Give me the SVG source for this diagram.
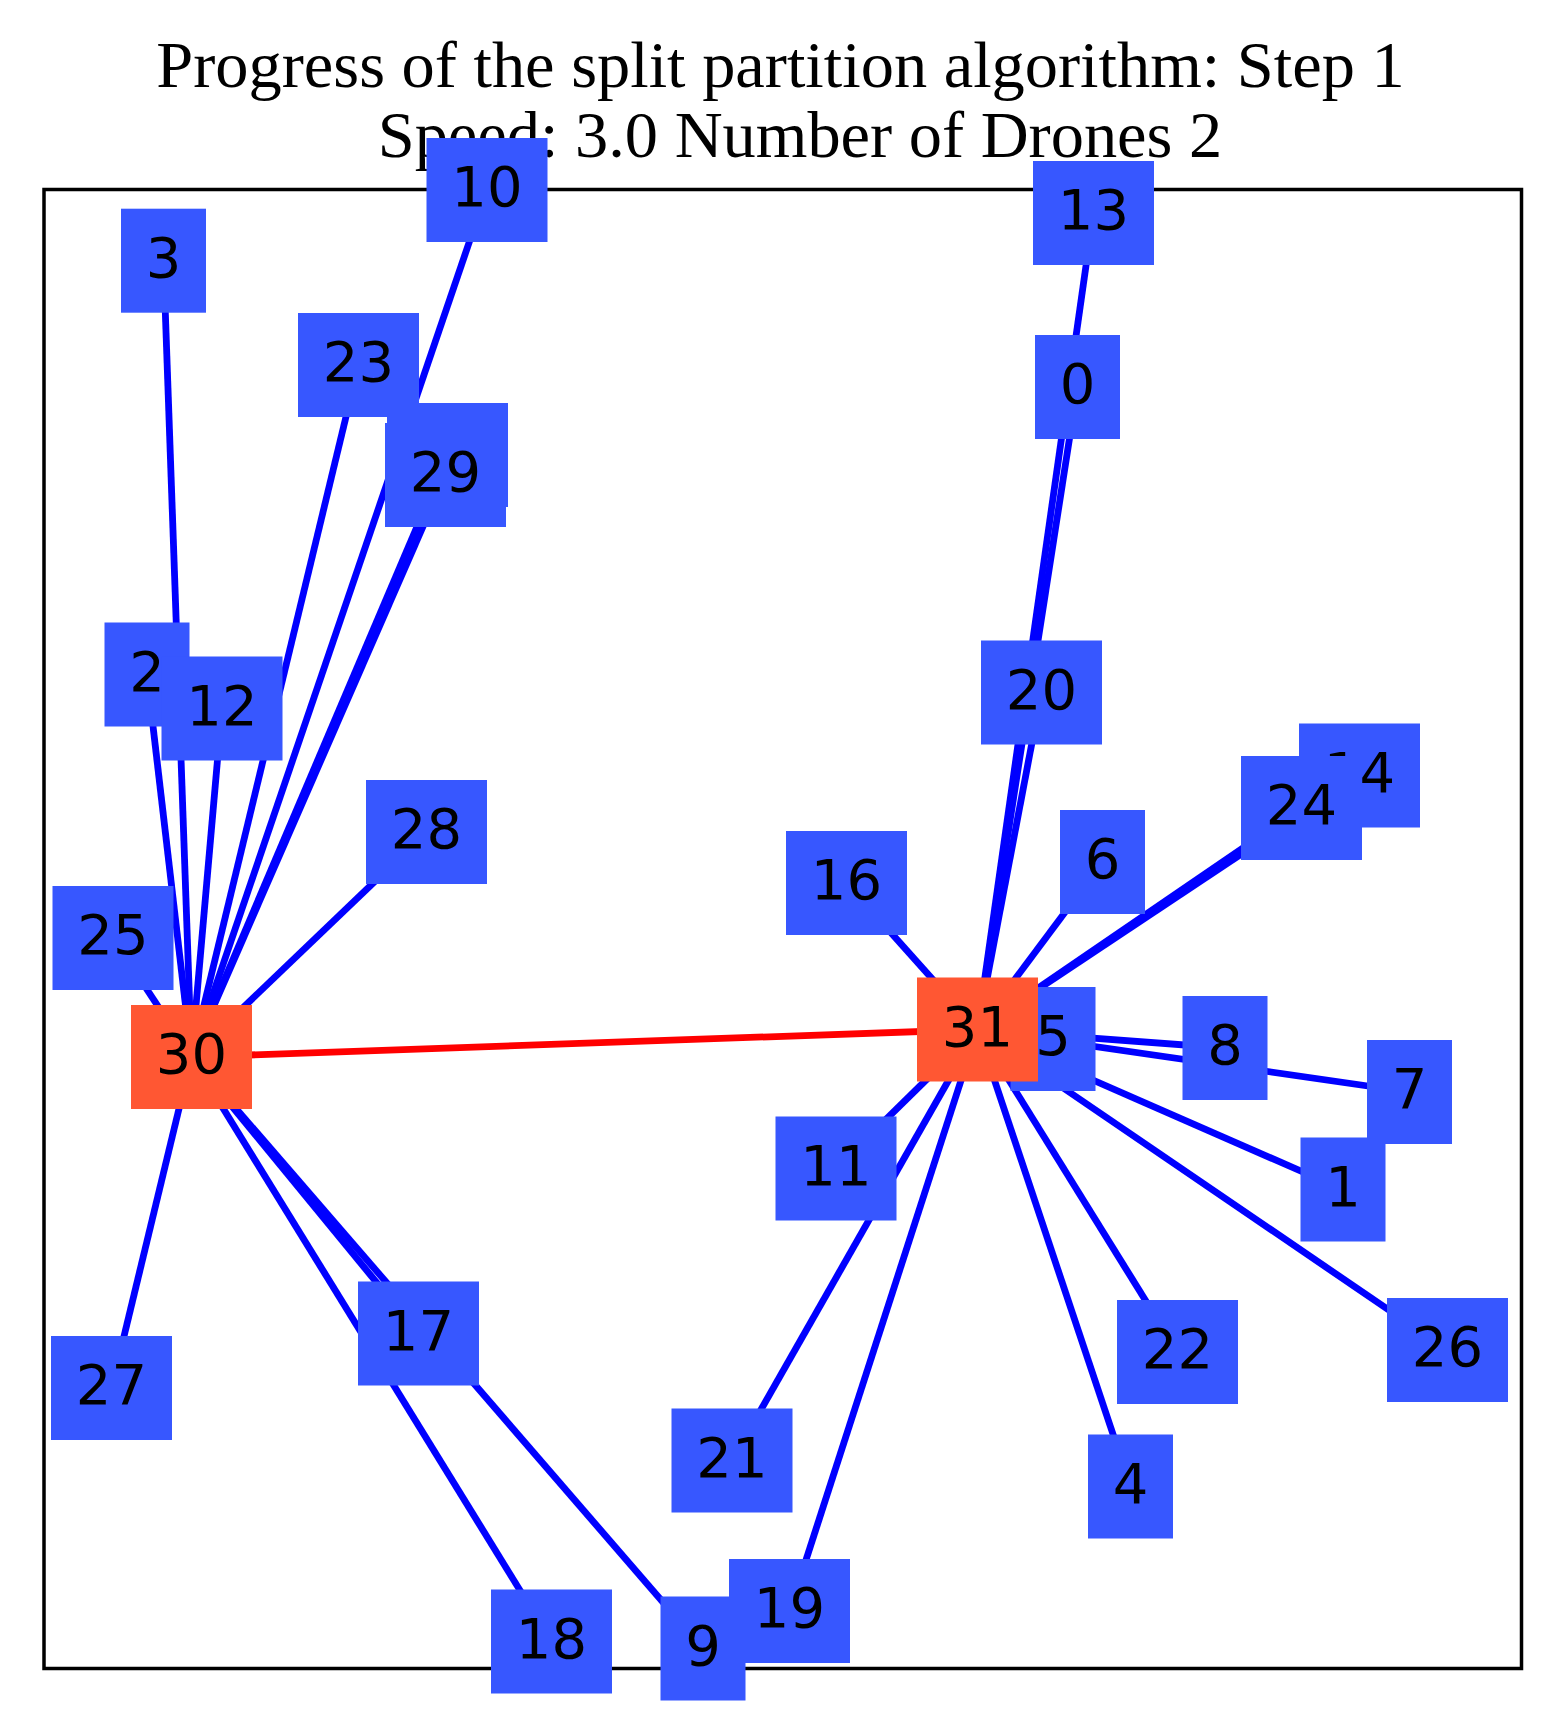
<svg xmlns="http://www.w3.org/2000/svg" width="1565" height="1716" viewBox="0 0 1565 1716">
  <style>
    .title { font-family: "Liberation Serif", "Times New Roman", serif; font-size: 66.4px; fill: #000; }
    .frame { fill: none; stroke: #000; stroke-width: 3.5; }
    .e { stroke: #0000ff; stroke-width: 6.8; stroke-linecap: butt; }
    .link { stroke: #ff0000; stroke-width: 6.8; }
    .c { fill: #3757ff; }
    .d { fill: #ff5733; }
    .lbl { font-family: "DejaVu Sans", "Liberation Sans", sans-serif; font-size: 56px; fill: #000; text-anchor: middle; }
  </style>

  <rect width="1565" height="1716" fill="#ffffff"/>

  <!-- title -->
  <text class="title" x="780.5" y="87" text-anchor="middle">Progress of the split partition algorithm: Step 1</text>
  <text class="title" x="800" y="157" text-anchor="middle">Speed: 3.0 Number of Drones 2</text>

  <!-- axes frame -->
  <rect class="frame" x="44" y="189.5" width="1477.5" height="1479"/>

  <!-- connectors: depot 30 (left) and depot 31 (right) to their customers -->
  <g id="edges">
    <line class="e" x1="191.5" y1="1057" x2="147" y2="674.5"/>
    <line class="e" x1="191.5" y1="1057" x2="163.5" y2="260.7"/>
    <line class="e" x1="191.5" y1="1057" x2="703" y2="1648.5"/>
    <line class="e" x1="191.5" y1="1057" x2="487" y2="190"/>
    <line class="e" x1="191.5" y1="1057" x2="222" y2="708.5"/>
    <line class="e" x1="191.5" y1="1057" x2="447.5" y2="455"/>
    <line class="e" x1="191.5" y1="1057" x2="418.5" y2="1333.5"/>
    <line class="e" x1="191.5" y1="1057" x2="551.5" y2="1641.5"/>
    <line class="e" x1="191.5" y1="1057" x2="358.5" y2="365"/>
    <line class="e" x1="191.5" y1="1057" x2="113" y2="938"/>
    <line class="e" x1="191.5" y1="1057" x2="111.5" y2="1388"/>
    <line class="e" x1="191.5" y1="1057" x2="426.5" y2="832"/>
    <line class="e" x1="191.5" y1="1057" x2="445.5" y2="475"/>

    <line class="e" x1="977.5" y1="1029.5" x2="1077.5" y2="387"/>
    <line class="e" x1="977.5" y1="1029.5" x2="1343" y2="1189.5"/>
    <line class="e" x1="977.5" y1="1029.5" x2="1130.5" y2="1486.5"/>
    <line class="e" x1="977.5" y1="1029.5" x2="1053" y2="1039"/>
    <line class="e" x1="977.5" y1="1029.5" x2="1102.5" y2="862"/>
    <line class="e" x1="977.5" y1="1029.5" x2="1409.5" y2="1092"/>
    <line class="e" x1="977.5" y1="1029.5" x2="1225" y2="1048"/>
    <line class="e" x1="977.5" y1="1029.5" x2="836" y2="1168.5"/>
    <line class="e" x1="977.5" y1="1029.5" x2="1093.5" y2="213"/>
    <line class="e" x1="977.5" y1="1029.5" x2="1359.5" y2="775.5"/>
    <line class="e" x1="977.5" y1="1029.5" x2="846.5" y2="883"/>
    <line class="e" x1="977.5" y1="1029.5" x2="789.5" y2="1611"/>
    <line class="e" x1="977.5" y1="1029.5" x2="1041.5" y2="692.5"/>
    <line class="e" x1="977.5" y1="1029.5" x2="732" y2="1460.5"/>
    <line class="e" x1="977.5" y1="1029.5" x2="1177.5" y2="1352"/>
    <line class="e" x1="977.5" y1="1029.5" x2="1301.5" y2="808"/>
    <line class="e" x1="977.5" y1="1029.5" x2="1447.5" y2="1350"/>

    <line class="link" x1="191.5" y1="1057" x2="977.5" y2="1029.5"/>
  </g>

  <!-- customer nodes -->
  <g id="node-0"><rect class="c" x="1035" y="335" width="85" height="104"/><text class="lbl" x="1077.5" y="403">0</text></g>
  <g id="node-1"><rect class="c" x="1300.5" y="1137.5" width="85" height="104"/><text class="lbl" x="1343" y="1205.5">1</text></g>
  <g id="node-2"><rect class="c" x="104.5" y="622.5" width="85" height="104"/><text class="lbl" x="147" y="690.5">2</text></g>
  <g id="node-3"><rect class="c" x="121" y="208.7" width="85" height="104"/><text class="lbl" x="163.5" y="276.7">3</text></g>
  <g id="node-4"><rect class="c" x="1088" y="1434.5" width="85" height="104"/><text class="lbl" x="1130.5" y="1502.5">4</text></g>
  <g id="node-5"><rect class="c" x="1010.5" y="987" width="85" height="104"/><text class="lbl" x="1053" y="1055">5</text></g>
  <g id="node-6"><rect class="c" x="1060" y="810" width="85" height="104"/><text class="lbl" x="1102.5" y="878">6</text></g>
  <g id="node-7"><rect class="c" x="1367" y="1040" width="85" height="104"/><text class="lbl" x="1409.5" y="1108">7</text></g>
  <g id="node-8"><rect class="c" x="1182.5" y="996" width="85" height="104"/><text class="lbl" x="1225" y="1064">8</text></g>
  <g id="node-9"><rect class="c" x="660.5" y="1596.5" width="85" height="104"/><text class="lbl" x="703" y="1664.5">9</text></g>
  <g id="node-10"><rect class="c" x="426.5" y="138" width="121" height="104"/><text class="lbl" x="487" y="206">10</text></g>
  <g id="node-11"><rect class="c" x="775.5" y="1116.5" width="121" height="104"/><text class="lbl" x="836" y="1184.5">11</text></g>
  <g id="node-12"><rect class="c" x="161.5" y="656.5" width="121" height="104"/><text class="lbl" x="222" y="724.5">12</text></g>
  <g id="node-13"><rect class="c" x="1033" y="161" width="121" height="104"/><text class="lbl" x="1093.5" y="229">13</text></g>
  <g id="node-14"><rect class="c" x="1299" y="723.5" width="121" height="104"/><text class="lbl" x="1359.5" y="791.5">14</text></g>
  <g id="node-15"><rect class="c" x="387" y="403" width="121" height="104"/><text class="lbl" x="447.5" y="471">15</text></g>
  <g id="node-16"><rect class="c" x="786" y="831" width="121" height="104"/><text class="lbl" x="846.5" y="899">16</text></g>
  <g id="node-17"><rect class="c" x="358" y="1281.5" width="121" height="104"/><text class="lbl" x="418.5" y="1349.5">17</text></g>
  <g id="node-18"><rect class="c" x="491" y="1589.5" width="121" height="104"/><text class="lbl" x="551.5" y="1657.5">18</text></g>
  <g id="node-19"><rect class="c" x="729" y="1559" width="121" height="104"/><text class="lbl" x="789.5" y="1627">19</text></g>
  <g id="node-20"><rect class="c" x="981" y="640.5" width="121" height="104"/><text class="lbl" x="1041.5" y="708.5">20</text></g>
  <g id="node-21"><rect class="c" x="671.5" y="1408.5" width="121" height="104"/><text class="lbl" x="732" y="1476.5">21</text></g>
  <g id="node-22"><rect class="c" x="1117" y="1300" width="121" height="104"/><text class="lbl" x="1177.5" y="1368">22</text></g>
  <g id="node-23"><rect class="c" x="298" y="313" width="121" height="104"/><text class="lbl" x="358.5" y="381">23</text></g>
  <g id="node-24"><rect class="c" x="1241" y="756" width="121" height="104"/><text class="lbl" x="1301.5" y="824">24</text></g>
  <g id="node-25"><rect class="c" x="52.5" y="886" width="121" height="104"/><text class="lbl" x="113" y="954">25</text></g>
  <g id="node-26"><rect class="c" x="1387" y="1298" width="121" height="104"/><text class="lbl" x="1447.5" y="1366">26</text></g>
  <g id="node-27"><rect class="c" x="51" y="1336" width="121" height="104"/><text class="lbl" x="111.5" y="1404">27</text></g>
  <g id="node-28"><rect class="c" x="366" y="780" width="121" height="104"/><text class="lbl" x="426.5" y="848">28</text></g>
  <g id="node-29"><rect class="c" x="385" y="423" width="121" height="104"/><text class="lbl" x="445.5" y="491">29</text></g>

  <!-- depots -->
  <g id="node-30"><rect class="d" x="131" y="1005" width="121" height="104"/><text class="lbl" x="191.5" y="1073">30</text></g>
  <g id="node-31"><rect class="d" x="917" y="977.5" width="121" height="104"/><text class="lbl" x="977.5" y="1045.5">31</text></g>
</svg>
